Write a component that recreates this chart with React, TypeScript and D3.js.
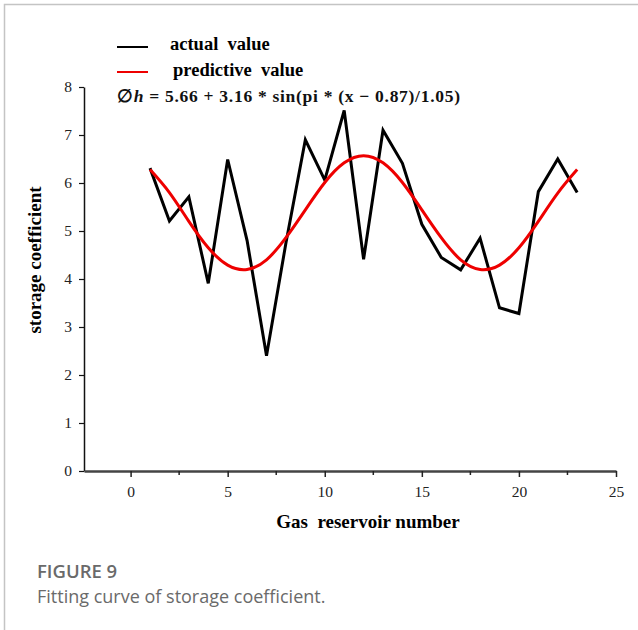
import React, { useEffect, useRef } from "react";
import * as d3 from "d3";

// reservoir numbers and storage coefficients
const reservoirs = [1, 2, 3, 4, 5, 6, 7, 8, 9, 10, 11, 12, 13, 14, 15, 16, 17, 18, 19, 20, 21, 22, 23];
const actualValues = [6.31, 5.21, 5.71, 3.91, 6.49, 4.8, 2.4, 4.75, 6.9, 6.06, 7.51, 4.41, 7.1, 6.41, 5.14, 4.45, 4.19, 4.85, 3.4, 3.28, 5.82, 6.5, 5.8];
const predictiveValues = [6.28, 5.8, 5.2, 4.65, 4.29, 4.2, 4.4, 4.86, 5.44, 6.01, 6.42, 6.57, 6.42, 6.01, 5.44, 4.86, 4.4, 4.2, 4.29, 4.65, 5.2, 5.79, 6.28];
const xMajorTicks = [0, 5, 10, 15, 20, 25];
const xMinorTicks = [2.5, 7.5, 12.5, 17.5, 22.5];
const yTicks = [0, 1, 2, 3, 4, 5, 6, 7, 8];

const width = 638;
const height = 630;
const serif = "'Liberation Serif', 'Times New Roman', serif";
const sans = "'Open Sans', 'Noto Sans', sans-serif";

const App = () => {
  const ref = useRef<SVGSVGElement>(null);

  useEffect(() => {
    const svg = d3.select(ref.current);
    svg.selectAll("*").remove();

    const x = d3.scaleLinear().domain([-2.4, 25]).range([84, 616]);
    const y = d3.scaleLinear().domain([0, 8]).range([471, 87]);

    // frame of the figure panel
    svg.append("path")
      .attr("d", `M4.5,${height} V4.5 H${width}`)
      .attr("fill", "none")
      .attr("stroke", "#c4c4c4")
      .attr("stroke-width", 1.5);

    // y axis
    const yAxis = svg.append("g")
      .attr("transform", `translate(${x(-2.4)},0)`)
      .call(d3.axisLeft(y).tickValues(yTicks).tickSize(5).tickSizeOuter(0).tickPadding(7));
    yAxis.select(".domain").attr("stroke", "#111").attr("stroke-width", 1.5);
    yAxis.selectAll(".tick line").attr("stroke", "#111").attr("stroke-width", 1.2);
    yAxis.selectAll("text").attr("font-family", serif).attr("font-size", 15.5).attr("fill", "#222");

    // x axis
    const xAxis = svg.append("g")
      .attr("transform", `translate(0,${y(0)})`)
      .call(d3.axisBottom(x).tickValues(xMajorTicks).tickSize(6).tickSizeOuter(0).tickPadding(9));
    xAxis.select(".domain").attr("stroke", "#444").attr("stroke-width", 2.5);
    xAxis.selectAll(".tick line").attr("stroke", "#222").attr("stroke-width", 1.5);
    xAxis.selectAll("text").attr("font-family", serif).attr("font-size", 15.5).attr("fill", "#222");

    svg.append("g")
      .selectAll("line")
      .data(xMinorTicks)
      .enter()
      .append("line")
      .attr("x1", (d) => x(d))
      .attr("x2", (d) => x(d))
      .attr("y1", y(0))
      .attr("y2", y(0) + 4)
      .attr("stroke", "#222")
      .attr("stroke-width", 1.5);

    // series
    const actual = reservoirs.map((r, i) => [r, actualValues[i]] as [number, number]);
    const predicted = reservoirs.map((r, i) => [r, predictiveValues[i]] as [number, number]);

    svg.append("path")
      .datum(actual)
      .attr("fill", "none")
      .attr("stroke", "#000")
      .attr("stroke-width", 3)
      .attr("d", d3.line().x((d) => x(d[0])).y((d) => y(d[1])));

    svg.append("path")
      .datum(predicted)
      .attr("fill", "none")
      .attr("stroke", "#ee0000")
      .attr("stroke-width", 3)
      .attr("d", d3.line().curve(d3.curveNatural).x((d) => x(d[0])).y((d) => y(d[1])));

    // axis titles
    svg.append("text")
      .attr("x", 368)
      .attr("y", 528)
      .attr("text-anchor", "middle")
      .attr("font-family", serif)
      .attr("font-weight", "bold")
      .attr("font-size", 19)
      .attr("xml:space", "preserve")
      .text("Gas  reservoir number");

    svg.append("text")
      .attr("transform", "translate(41,260) rotate(-90)")
      .attr("text-anchor", "middle")
      .attr("font-family", serif)
      .attr("font-weight", "bold")
      .attr("font-size", 19)
      .text("storage coefficient");

    // legend
    svg.append("line").attr("x1", 117).attr("x2", 148).attr("y1", 47).attr("y2", 47)
      .attr("stroke", "#000").attr("stroke-width", 2);
    svg.append("text").attr("x", 170).attr("y", 50)
      .attr("font-family", serif).attr("font-weight", "bold").attr("font-size", 18.5)
      .attr("xml:space", "preserve")
      .text("actual  value");
    svg.append("line").attr("x1", 117).attr("x2", 148).attr("y1", 72).attr("y2", 72)
      .attr("stroke", "#ee0000").attr("stroke-width", 2);
    svg.append("text").attr("x", 173).attr("y", 76)
      .attr("font-family", serif).attr("font-weight", "bold").attr("font-size", 18.5)
      .attr("xml:space", "preserve")
      .text("predictive  value");

    const formula = svg.append("text").attr("x", 117).attr("y", 102)
      .attr("font-family", serif).attr("font-weight", "bold").attr("font-size", 17.5)
      .attr("fill", "#111")
      .attr("textLength", 343)
      .attr("lengthAdjust", "spacing");
    formula.append("tspan").text("∅");
    formula.append("tspan").attr("font-style", "italic").text("h");
    formula.append("tspan").text(" = 5.66 + 3.16 * sin(pi * (x − 0.87)/1.05)");

    // caption
    svg.append("text").attr("x", 37).attr("y", 578)
      .attr("font-family", sans).attr("font-weight", 600)
      .attr("font-size", 18.5).attr("fill", "#6a6a6a")
      .text("FIGURE 9");
    svg.append("text").attr("x", 37).attr("y", 603)
      .attr("font-family", sans).attr("font-weight", 400)
      .attr("font-size", 18).attr("fill", "#6a6a6a")
      .text("Fitting curve of storage coefficient.");
  }, []);

  return (
    <svg
      ref={ref}
      width={width}
      height={height}
      style={{ position: "absolute", left: 0, top: 0, background: "#fff" }}
    />
  );
};

export default App;
